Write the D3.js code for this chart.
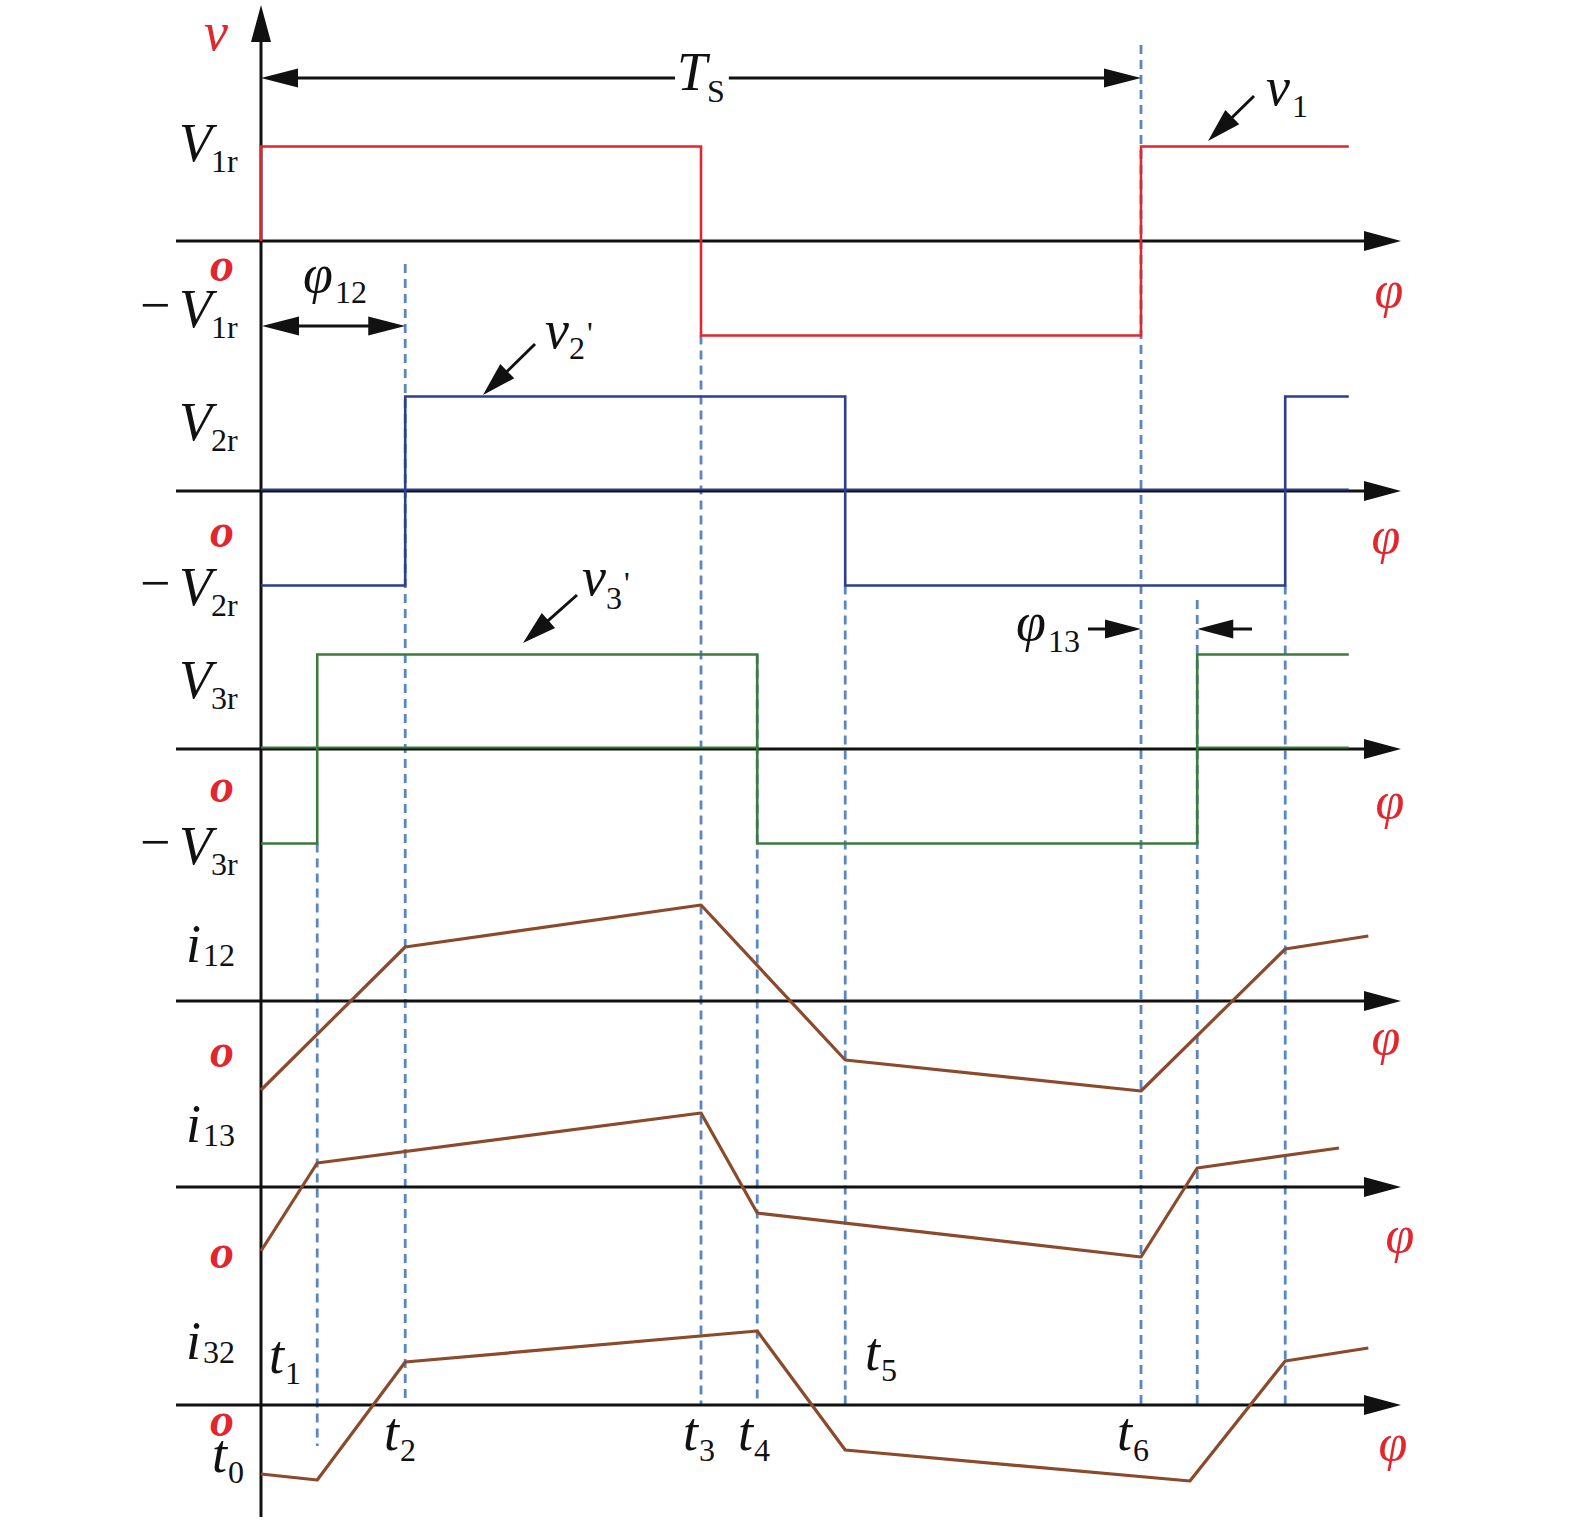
<!DOCTYPE html>
<html>
<head>
<meta charset="utf-8">
<script src="https://cdn.jsdelivr.net/npm/d3@7"></script>
<style>
  body { margin: 0; background: #fff; }
  svg { display: block; }
  text { font-family: "Liberation Serif", "Times New Roman", serif; }
</style>
</head>
<body>
<div id="chart"></div>
<script>
// phase in degrees, one switching period Ts = 360
const v1Steps = [[0, 0], [0, 1], [180, -1], [360, 1], [445, 1]];
const v2Steps = [[0, -1], [59, 1], [239, -1], [419, 1], [445, 1]];
const v3Steps = [[0, -1], [23, 1], [203, -1], [383, 1], [445, 1]];

// colored trace lying on the zero line
const v2ZeroSpans = [[0, 445]];
const v3ZeroSpans = [[0, 203], [383, 445]];

const i12Phase = [0, 59, 180, 239, 360, 419, 453];
const i12Value = [-0.89, 0.54, 0.96, -0.59, -0.90, 0.52, 0.65];

const i13Phase = [0, 23, 180, 203, 360, 383, 441];
const i13Value = [-0.64, 0.24, 0.74, -0.26, -0.70, 0.19, 0.39];

const i32Phase = [0, 23, 59, 203, 239, 380, 419, 453];
const i32Value = [-0.69, -0.75, 0.43, 0.74, -0.45, -0.76, 0.44, 0.57];

const markPhase = [23, 59, 180, 203, 239, 360, 383, 419];
const timeLabels = ['0', '1', '2', '3', '4', '5', '6'];
const phi12 = 59, phi13 = 23, Ts = 360;

const W = 1575, H = 1524;
const red = '#e1262d', blue = '#2b3f8e', green = '#3b7b3c', brown = '#8a4a2b', dash = '#5a86c6';

const svg = d3.select('#chart').append('svg').attr('width', W).attr('height', H);

const x = d3.scaleLinear().domain([0, Ts]).range([261, 1141]);
const axisLeft = 176, axisRight = 1401;

const zeros = [241, 491, 749, 1001, 1187, 1405];
const vScale = z => d3.scaleLinear().domain([-1, 1]).range([z + 94.5, z - 94.5]);
const iScale = z => d3.scaleLinear().domain([-1, 1]).range([z + 100, z - 100]);
const yV1 = vScale(zeros[0]), yV2 = vScale(zeros[1]), yV3 = vScale(zeros[2]);
const yI12 = iScale(zeros[3]), yI13 = iScale(zeros[4]), yI32 = iScale(zeros[5]);

function arrowHead(g, tx, ty, ang, len, half) {
  // ang: direction the arrow points to (radians)
  const c = Math.cos(ang), s = Math.sin(ang);
  const bx = tx - c * len, by = ty - s * len;
  g.append('path')
    .attr('d', `M${tx},${ty}L${bx - s * half},${by + c * half}L${bx + s * half},${by - c * half}Z`)
    .attr('fill', '#111');
}

function hline(g, x1, x2, y) {
  g.append('line').attr('x1', x1).attr('x2', x2).attr('y1', y).attr('y2', y)
    .attr('stroke', '#111').attr('stroke-width', 3);
}

function pointer(g, x1, y1, x2, y2) {
  const ang = Math.atan2(y2 - y1, x2 - x1);
  const len = 34;
  g.append('line')
    .attr('x1', x1).attr('y1', y1)
    .attr('x2', x2 - Math.cos(ang) * len * 0.8).attr('y2', y2 - Math.sin(ang) * len * 0.8)
    .attr('stroke', '#111').attr('stroke-width', 3);
  arrowHead(g, x2, y2, ang, len, 10);
}

// dashed guides
const guideTop = [yV3(-1), 264, yV1(-1), yV3(1), yV2(-1), 45, 600, yV2(-1)];
const guideBottom = [1446, zeros[5], zeros[5], zeros[5], zeros[5], zeros[5], zeros[5], zeros[5]];
svg.append('g').selectAll('line')
  .data(markPhase)
  .join('line')
  .attr('x1', d => x(d)).attr('x2', d => x(d))
  .attr('y1', (d, i) => guideTop[i]).attr('y2', (d, i) => guideBottom[i])
  .attr('stroke', dash).attr('stroke-width', 2.8).attr('stroke-dasharray', '9,6');

// axes
const axes = svg.append('g');
axes.append('line').attr('x1', x(0)).attr('x2', x(0)).attr('y1', 1517).attr('y2', 38)
  .attr('stroke', '#111').attr('stroke-width', 3);
arrowHead(axes, x(0), 5, -Math.PI / 2, 37, 10);
zeros.forEach(z => {
  hline(axes, axisLeft, axisRight - 34, z);
  arrowHead(axes, axisRight, z, 0, 37, 10);
});

// zero traces
const traces = svg.append('g');
v2ZeroSpans.forEach(s => traces.append('line').attr('x1', x(s[0])).attr('x2', x(s[1]))
  .attr('y1', zeros[1] - 1.5).attr('y2', zeros[1] - 1.5).attr('stroke', blue).attr('stroke-width', 2));
v3ZeroSpans.forEach(s => traces.append('line').attr('x1', x(s[0])).attr('x2', x(s[1]))
  .attr('y1', zeros[2] - 1.5).attr('y2', zeros[2] - 1.5).attr('stroke', green).attr('stroke-width', 2));

// voltage square waves
const stepLine = ys => d3.line().x(d => x(d[0])).y(d => ys(d[1])).curve(d3.curveStepAfter);
svg.append('path').datum(v1Steps).attr('d', stepLine(yV1))
  .attr('fill', 'none').attr('stroke', red).attr('stroke-width', 2.6);
svg.append('path').datum(v2Steps).attr('d', stepLine(yV2))
  .attr('fill', 'none').attr('stroke', blue).attr('stroke-width', 2.6);
svg.append('path').datum(v3Steps).attr('d', stepLine(yV3))
  .attr('fill', 'none').attr('stroke', green).attr('stroke-width', 2.6);

// currents
const curLine = ys => d3.line().x(d => x(d[0])).y(d => ys(d[1]));
[[i12Phase, i12Value, yI12], [i13Phase, i13Value, yI13], [i32Phase, i32Value, yI32]].forEach(([p, v, ys]) => {
  svg.append('path').datum(d3.zip(p, v)).attr('d', curLine(ys))
    .attr('fill', 'none').attr('stroke', brown).attr('stroke-width', 3.2).attr('stroke-linejoin', 'round');
});

// text helpers
const FS = 54, SUB = 32;
function label(g, tx, ty, main, sub, opt = {}) {
  const t = g.append('text').attr('x', tx).attr('y', ty)
    .attr('font-size', opt.size || FS).attr('font-style', 'italic')
    .attr('fill', opt.color || '#111');
  if (opt.anchor) t.attr('text-anchor', opt.anchor);
  if (opt.bold) t.attr('font-weight', 'bold');
  t.append('tspan').text(main);
  if (sub) t.append('tspan').attr('font-style', 'normal').attr('font-size', SUB)
    .attr('dy', opt.dy == null ? 11 : opt.dy).attr('dx', opt.dx || 0).text(sub);
  if (opt.prime) t.append('tspan').attr('font-style', 'normal').attr('font-size', SUB)
    .attr('dy', -15).attr('dx', 2).text("'");
  return t;
}

const txt = svg.append('g');

// axis name
label(txt, 204, 50, 'v', null, { color: red });

// Ts span, line broken around its label
const tsY = 78;
const tsLabel = label(txt, 677, 90, 'T', 'S', { dy: 12 });
const bb = tsLabel.node().getBBox();
hline(txt, x(0) + 30, bb.x - 2, tsY);
hline(txt, bb.x + bb.width + 4, x(Ts) - 30, tsY);
arrowHead(txt, x(0), tsY, Math.PI, 37, 9.5);
arrowHead(txt, x(Ts), tsY, 0, 37, 9.5);

// phi12 span
const p12Y = 326;
hline(txt, x(0) + 30, x(phi12) - 30, p12Y);
arrowHead(txt, x(0) + 1, p12Y, Math.PI, 37, 9.5);
arrowHead(txt, x(phi12), p12Y, 0, 37, 9.5);
label(txt, 303, 292, '\u03C6', '12', { dy: 11, dx: 2 });

// phi13 marks
const p13Y = 629;
hline(txt, 1088, x(Ts) - 30, p13Y);
arrowHead(txt, x(Ts), p13Y, 0, 36, 9.5);
hline(txt, x(Ts + phi13) + 30, 1252, p13Y);
arrowHead(txt, x(Ts + phi13), p13Y, Math.PI, 36, 9.5);
label(txt, 1016, 640, '\u03C6', '13', { dy: 12, dx: 2 });

// waveform pointers
pointer(txt, 1254, 96, 1208, 141);
label(txt, 1266, 105, 'v', '1', { dy: 12, dx: 2 });
pointer(txt, 535, 344, 483, 395);
label(txt, 545, 348, 'v', '2', { dy: 11, prime: true });
pointer(txt, 577, 595, 523, 643);
label(txt, 582, 595, 'v', '3', { dy: 14, prime: true });

// level labels
const levelNames = ['1r', '2r', '3r'];
const posBase = [161, 440, 698];
const negBase = [327, 605, 864];
levelNames.forEach((n, i) => {
  label(txt, 179, posBase[i], 'V', n, { dx: -1 });
  label(txt, 179, negBase[i], 'V', n, { dx: -1 });
  txt.append('text').attr('x', 140).attr('y', negBase[i] - 4).attr('font-size', FS)
    .attr('fill', '#111').text('\u2212');
});

// current names
const curNames = ['12', '13', '32'];
const curBase = [962, 1142, 1359];
curNames.forEach((n, i) => label(txt, 186, curBase[i], 'i', n, { dy: 4, dx: 2 }));

// origin marks
const oY = [281, 547, 802, 1067, 1268, 1436];
oY.forEach(yy => label(txt, 222, yy, 'o', null, { color: red, bold: true, size: 48, anchor: 'middle' }));

// phase axis names
const phiPos = [[1389, 307], [1386, 553], [1390, 818], [1386, 1054], [1400, 1252], [1393, 1460]];
phiPos.forEach(p => label(txt, p[0], p[1], '\u03C6', null, { color: red, size: 52, anchor: 'middle' }));

// instant labels
const tPos = [[212, 1472], [269, 1373], [384, 1450], [683, 1450], [738, 1450], [865, 1370], [1117, 1450]];
timeLabels.forEach((n, i) => label(txt, tPos[i][0], tPos[i][1], 't', n, { dy: 11, dx: 1 }));
</script>
</body>
</html>
